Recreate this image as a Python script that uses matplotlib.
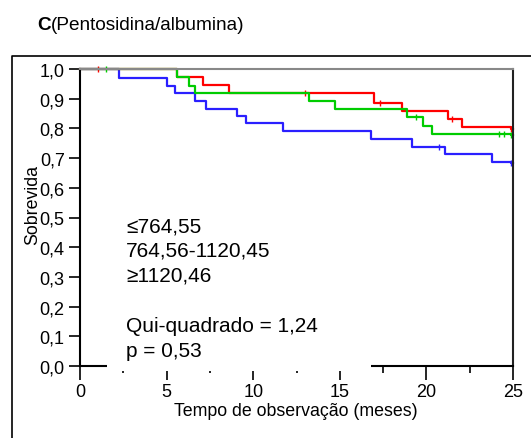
import matplotlib
matplotlib.use("Agg")
from matplotlib import pyplot as plt
from matplotlib.lines import Line2D
from matplotlib.patches import Rectangle

plt.rcParams['font.family'] = ['Liberation Sans', 'DejaVu Sans']

# Kaplan-Meier steps (time in months, survival)
blue_t = [0, 2.27, 5.0, 5.46, 6.62, 7.27, 9.07, 9.6, 11.71, 16.78, 19.15, 21.06, 23.78, 24.9, 25]
blue_s = [1.0, 0.97, 0.944, 0.92, 0.893, 0.865, 0.843, 0.817, 0.792, 0.764, 0.738, 0.715, 0.688, 0.683, 0.683]
blue_cens_t = [20.7, 24.9]
blue_cens_s = [0.738, 0.683]

red_t = [0, 5.6, 7.1, 8.62, 16.97, 18.6, 21.22, 22.07, 24.9, 25]
red_s = [1.0, 0.972, 0.946, 0.918, 0.887, 0.860, 0.832, 0.804, 0.797, 0.797]
red_cens_t = [1.06, 13.0, 17.3, 21.5, 24.9]
red_cens_s = [1.0, 0.918, 0.887, 0.832, 0.797]

green_t = [0, 5.6, 6.27, 6.62, 13.25, 14.7, 18.87, 19.8, 20.35, 24.9, 25]
green_s = [1.0, 0.972, 0.944, 0.918, 0.893, 0.865, 0.837, 0.809, 0.782, 0.778, 0.778]
green_cens_t = [1.5, 19.4, 24.2, 24.5, 24.9]
green_cens_s = [1.0, 0.837, 0.782, 0.782, 0.778]

legend_lines = ['\u2264764,55', '764,56-1120,45', '\u22651120,46']
stat_lines = ['Qui-quadrado = 1,24', 'p = 0,53']

W, H = 531, 439
fig = plt.figure(figsize=(W / 100, H / 100), dpi=100)


def fx(px):
    return px / W


def fy(py):
    return 1 - py / H


ax = fig.add_axes([fx(80), fy(367), fx(513) - fx(80), fy(70) - fy(367)])

series = [
    (blue_t, blue_s, blue_cens_t, blue_cens_s, '#2a1fff'),
    (red_t, red_s, red_cens_t, red_cens_s, '#ff0000'),
    (green_t, green_s, green_cens_t, green_cens_s, '#00cc00'),
]
for t, s, ct, cs, col in series:
    ax.step(t, s, where='post', color=col, lw=1.6, clip_on=False)
    ax.plot(ct, cs, ls='none', marker='|', ms=4, mew=1, color=col, clip_on=False)

ax.set_xlim(0, 25)
ax.set_ylim(0, 1.0)
ax.set_xticks([0, 5, 10, 15, 20, 25])
ax.set_xticks([2.5, 7.5, 12.5, 17.5, 22.5], minor=True)
ax.set_yticks([i / 10 for i in range(11)])
ax.set_yticklabels([('%.1f' % (i / 10)).replace('.', ',') for i in range(11)])
ax.tick_params(axis='both', labelsize=13, colors='black')
ax.tick_params(axis='x', which='major', length=10, width=1.2, pad=2)
ax.tick_params(axis='x', which='minor', length=5, width=1.2)
ax.tick_params(axis='y', length=8, width=1.2, pad=3)

for side in ['left', 'bottom', 'right']:
    ax.spines[side].set_linewidth(1.5)
ax.spines['top'].set_color('#888888')
ax.spines['top'].set_linewidth(1.5)
ax.spines['right'].set_color('#222222')

# white gap hiding part of the x axis line
fig.patches.append(Rectangle((fx(107), fy(371.5)), fx(371) - fx(107), fy(364) - fy(371.5),
                             transform=fig.transFigure, facecolor='white',
                             edgecolor='none', zorder=10))

fig.text(fx(296), fy(412), 'Tempo de observação (meses)', fontsize=12.8,
         ha='center', va='center')
fig.text(fx(33), fy(205), 'Sobrevida', fontsize=12.8, rotation=90,
         ha='center', va='center')

baselines = [233, 257, 282]
for txt, b in zip(legend_lines, baselines):
    fig.text(fx(126), fy(b), txt, fontsize=15, va='baseline')
for txt, b in zip(stat_lines, [332, 357]):
    fig.text(fx(126), fy(b), txt, fontsize=15, va='baseline')

# title: bold letter followed by regular text
c_txt = fig.text(fx(37), fy(30), 'C', fontsize=13.7, fontweight='bold', va='baseline')
fig.canvas.draw()
c_box = c_txt.get_window_extent()
fig.text(c_box.x1 / W + 0.001, fy(30), '(Pentosidina/albumina)', fontsize=13.7, va='baseline')

# outer panel frame
fig.lines.append(Line2D([fx(12), fx(12), fx(531)], [fy(439), fy(57), fy(57)],
                        transform=fig.transFigure, color='black', lw=1.2))

fig.savefig('out.png', dpi=100)
